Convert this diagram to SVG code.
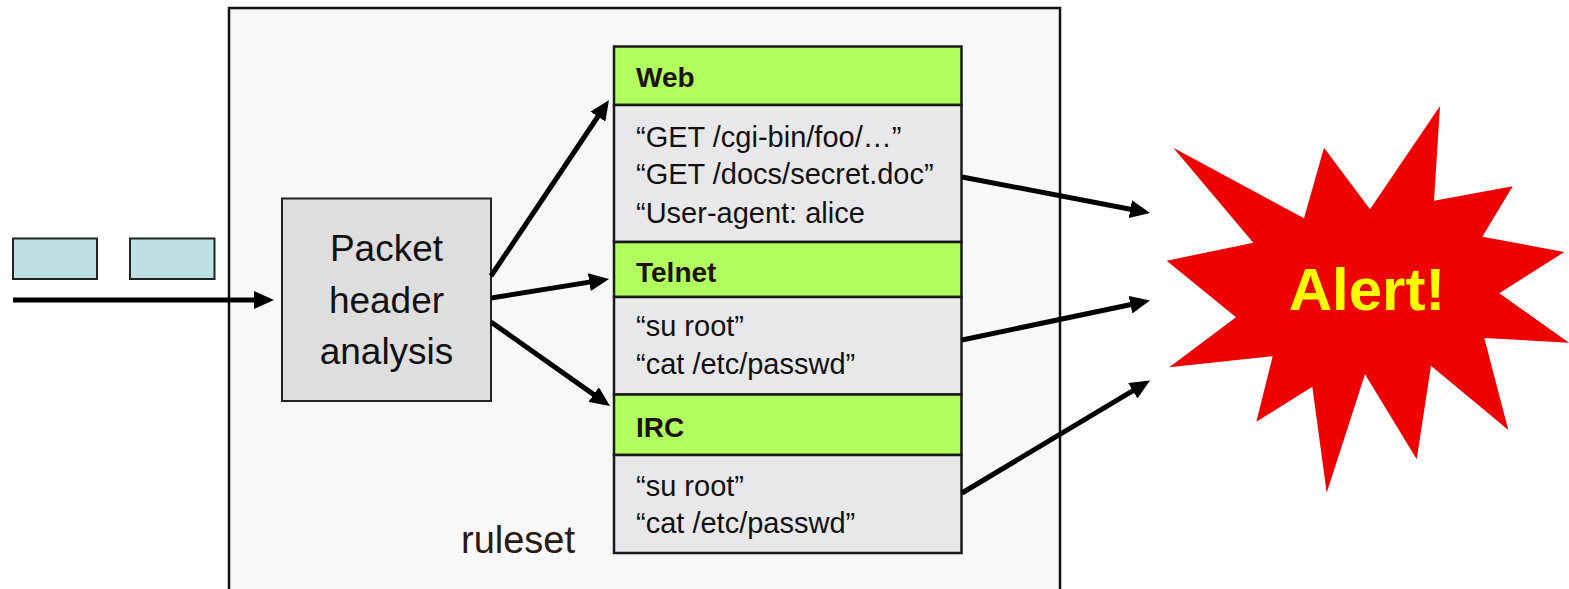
<svg xmlns="http://www.w3.org/2000/svg" width="1569" height="589" viewBox="0 0 1569 589">
  <style>
    .frame { fill: #f8f8f8; stroke: #111; stroke-width: 2.5; }
    .pkt { fill: #bde0e3; stroke: #222; stroke-width: 2; }
    .box { fill: #dedede; stroke: #222; stroke-width: 2; }
    .hdr { fill: #b0ff5e; stroke: #1a1a1a; stroke-width: 2.5; }
    .body { fill: #e8e8ea; stroke: #1a1a1a; stroke-width: 2.5; }
    .wire { fill: none; stroke: #000; stroke-width: 5; marker-end: url(#head); }
    text { font-family: "Liberation Sans", Arial, sans-serif; }
    .big { font-size: 37px; fill: #111; text-anchor: middle; }
    .hlabel { font-size: 28px; font-weight: bold; fill: #22110a; }
    .rule { font-size: 29px; fill: #111; }
    .caption { font-size: 38px; fill: #2a1a12; }
    .alert { font-size: 60px; font-weight: bold; fill: #ffff00; text-anchor: middle; }
  </style>
  <defs>
    <marker id="head" markerUnits="userSpaceOnUse" markerWidth="22" markerHeight="18" refX="8" refY="9" orient="auto">
      <path d="M0,0 L20,9 L0,18 Z" fill="#000"/>
    </marker>
  </defs>

  <!-- outer ruleset frame -->
  <g id="frame">
    <rect class="frame" x="229" y="8" width="831" height="600"/>
    <text class="caption" x="461" y="553">ruleset</text>
  </g>

  <!-- incoming packets -->
  <g id="packets">
    <rect class="pkt" x="13" y="238.5" width="84" height="40.5"/>
    <rect class="pkt" x="130" y="238.5" width="84.5" height="40.5"/>
  </g>

  <!-- header analysis stage -->
  <g id="analysis">
    <rect class="box" x="282" y="198.5" width="209" height="202.5"/>
    <text class="big" x="386.5" y="261">Packet</text>
    <text class="big" x="386.5" y="312.5">header</text>
    <text class="big" x="386.5" y="363.5">analysis</text>
  </g>

  <!-- Web rules -->
  <g id="web">
    <rect class="hdr" x="614" y="46.5" width="347.5" height="58.5"/>
    <rect class="body" x="614" y="105" width="347.5" height="137"/>
    <text class="hlabel" x="636" y="87">Web</text>
    <text class="rule" x="636" y="146.5">“GET /cgi-bin/foo/…”</text>
    <text class="rule" x="636" y="183.5">“GET /docs/secret.doc”</text>
    <text class="rule" x="636" y="222.5">“User-agent: alice</text>
  </g>

  <!-- Telnet rules -->
  <g id="telnet">
    <rect class="hdr" x="614" y="242" width="347.5" height="55"/>
    <rect class="body" x="614" y="297" width="347.5" height="97.5"/>
    <text class="hlabel" x="636" y="282">Telnet</text>
    <text class="rule" x="636" y="336">“su root”</text>
    <text class="rule" x="636" y="374">“cat /etc/passwd”</text>
  </g>

  <!-- IRC rules -->
  <g id="irc">
    <rect class="hdr" x="614" y="394.5" width="347.5" height="60.5"/>
    <rect class="body" x="614" y="455" width="347.5" height="98"/>
    <text class="hlabel" x="636" y="437">IRC</text>
    <text class="rule" x="636" y="496">“su root”</text>
    <text class="rule" x="636" y="533">“cat /etc/passwd”</text>
  </g>

  <!-- alert burst -->
  <g id="alert">
    <polygon fill="#ee0000" points="1173.3,147.7 1304,218.3 1324,147.7 1370,209.3 1440,106 1434,200.7 1512.7,186.3 1482.3,236.7 1564.3,252 1499.3,293.3 1569,342.7 1484.3,338 1508.3,430 1431,365.7 1416.7,459.3 1365,374.3 1326.7,492.7 1312.3,386.7 1256.3,421.7 1272.7,356.3 1169.3,367.3 1236,317.3 1166.7,260.7 1253.3,242.7"/>
    <text class="alert" x="1367" y="310">Alert!</text>
  </g>

  <!-- connectors -->
  <g id="connectors">
    <line class="wire" x1="13" y1="300" x2="262" y2="300"/>
    <line class="wire" x1="491" y1="276" x2="602.3" y2="110"/>
    <line class="wire" x1="491" y1="298" x2="597.2" y2="280.9"/>
    <line class="wire" x1="491" y1="322" x2="600.2" y2="399.1"/>
    <line class="wire" x1="962" y1="177" x2="1138.2" y2="210.7"/>
    <line class="wire" x1="962" y1="340" x2="1138.3" y2="303"/>
    <line class="wire" x1="962" y1="493" x2="1139.7" y2="386.7"/>
  </g>
</svg>
